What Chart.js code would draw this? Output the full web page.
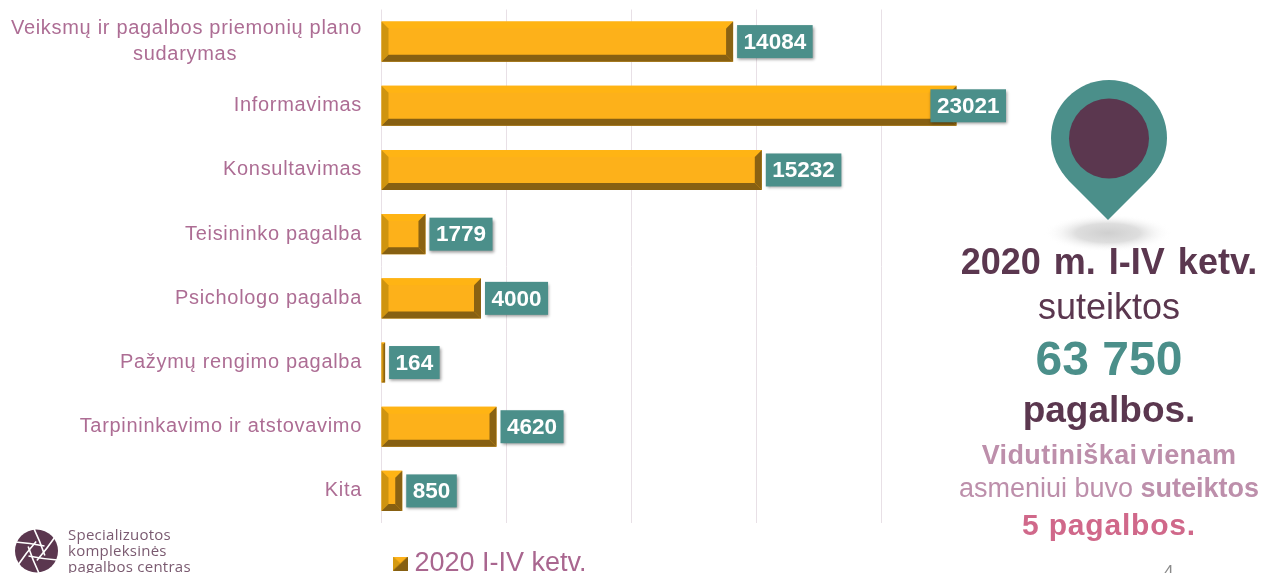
<!DOCTYPE html>
<html lang="lt"><head><meta charset="utf-8">
<style>
html,body{margin:0;padding:0;background:#fff;width:1264px;height:573px;overflow:hidden;font-family:"Liberation Sans",Arial,sans-serif}
canvas{position:absolute;left:0;top:0}
svg{position:absolute;left:0;top:0}
.t{position:absolute;white-space:nowrap;text-align:center;left:909px;width:400px;line-height:1}
.l{position:absolute;left:68px;white-space:nowrap;font-family:"Open Sans",sans-serif;font-size:15px;letter-spacing:.25px;color:#7a5a70;line-height:1}
</style>
<script src="https://cdn.jsdelivr.net/npm/chart.js@4"></script>
</head><body>
<canvas id="c" width="1264" height="573"></canvas>
<svg width="1264" height="573" viewBox="0 0 1264 573">
<defs><radialGradient id="sh"><stop offset="0" stop-color="#cfcfcf"/><stop offset=".5" stop-color="#dedede"/><stop offset="1" stop-color="#fff" stop-opacity="0"/></radialGradient></defs>
<ellipse cx="1108" cy="233" rx="64" ry="19" fill="url(#sh)"/>
<path d="M1109 80C1077 80 1051 106 1051 138C1051 156 1059 170 1069 181L1108 220L1147 181C1158 170 1167 156 1167 138C1167 106 1141 80 1109 80Z" fill="#4b8f8a"/>
<circle cx="1109" cy="138.500" r="40" fill="#5b374f"/>
<g transform="translate(36.500 551)">
<circle r="21.500" fill="#5b374f"/>
<g stroke="#fff" stroke-width="1.600" fill="none" id="ap">
<path d="M-21 -9Q-7 -8 8 -5"/>
<path d="M-21 -9Q-7 -8 8 -5" transform="rotate(60)"/>
<path d="M-21 -9Q-7 -8 8 -5" transform="rotate(120)"/>
<path d="M-21 -9Q-7 -8 8 -5" transform="rotate(180)"/>
<path d="M-21 -9Q-7 -8 8 -5" transform="rotate(240)"/>
<path d="M-21 -9Q-7 -8 8 -5" transform="rotate(300)"/>
</g></g>
</svg>
<div class="l" style="top:527px">Specializuotos</div>
<div class="l" style="top:543px">kompleksinės</div>
<div class="l" style="top:559px">pagalbos centras</div>
<div class="t" style="top:244px;font-size:36px;font-weight:700;color:#5b374f;word-spacing:3px">2020 m. I-IV ketv.</div>
<div class="t" style="top:289px;font-size:36px;color:#5b374f">suteiktos</div>
<div class="t" style="top:335px;font-size:48px;font-weight:700;color:#4b8f8a">63 750</div>
<div class="t" style="top:391px;font-size:37px;font-weight:700;color:#5b374f">pagalbos.</div>
<div class="t" style="top:442px;font-size:27px;font-weight:700;color:#bd8fab;letter-spacing:.4px;word-spacing:-4.500px">Vidutiniškai vienam</div>
<div class="t" style="top:475px;font-size:27px;color:#bd8fab">asmeniui buvo <b>suteiktos</b></div>
<div class="t" style="top:510px;font-size:30px;font-weight:700;color:#d0688a;letter-spacing:.8px">5 pagalbos.</div>
<div style="position:absolute;left:1164px;top:563px;font-size:17px;color:#8a8a8a;line-height:1">4</div>
<script>
const categories = [["Veiksmų ir pagalbos priemonių plano","sudarymas"],"Informavimas","Konsultavimas","Teisininko pagalba","Psichologo pagalba","Pažymų rengimo pagalba","Tarpininkavimo ir atstovavimo","Kita"];
const seriesName = "2020 I-IV ketv.";
const values = [14084,23021,15232,1779,4000,164,4620,850];
const axisMax = 25000, axisStep = 5000;

const FACE="#fdb11a",TOP="#ffb414",LEFT="#cf9410",RIGHT="#8a6212",BOTTOM="#876012";
const SPACING="0.69px";
function bevel(ctx,x0,y0,x1,y1,b){
  const tri=(pts,col)=>{ctx.fillStyle=col;ctx.beginPath();pts.forEach((p,i)=>i?ctx.lineTo(p[0],p[1]):ctx.moveTo(p[0],p[1]));ctx.closePath();ctx.fill();};
  tri([[x0,y0],[x1,y0],[x1-b,y0+b],[x0+b,y0+b]],TOP);
  tri([[x0,y0],[x0+b,y0+b],[x0+b,y1-b],[x0,y1]],LEFT);
  tri([[x1,y0],[x1,y1],[x1-b,y1-b],[x1-b,y0+b]],RIGHT);
  tri([[x0,y1],[x0+b,y1-b],[x1-b,y1-b],[x1,y1]],BOTTOM);
}
const swatch=document.createElement("canvas");swatch.width=15;swatch.height=14;
(function(){const s=swatch.getContext("2d");
  s.fillStyle="#d49a12";s.fillRect(0,0,15,14);
  s.fillStyle="#fdb11a";s.beginPath();s.moveTo(0,0);s.lineTo(15,0);s.lineTo(7.5,7);s.closePath();s.fill();
  s.fillStyle="#876012";s.beginPath();s.moveTo(15,0);s.lineTo(15,14);s.lineTo(0,14);s.closePath();s.fill();})();

const barDecor={id:"barDecor",
  beforeDraw(chart){
    const l=chart.legend,ctx=chart.ctx;
    l.left=387;l.right=900;l.top=537;
    if(!l._wrapped){l._wrapped=true;const d=l.draw;l.draw=function(a){ctx.letterSpacing="0px";d.call(this,a);ctx.letterSpacing=SPACING;};}
    ctx.letterSpacing=SPACING;
  },
  beforeDatasetsDraw(chart){chart.ctx.letterSpacing="0px";},
  afterDatasetsDraw(chart){
    const ctx=chart.ctx,meta=chart.getDatasetMeta(0),area=chart.chartArea;
    meta.data.forEach((el,i)=>{
      const x0=el.base,x1=el.x,y0=el.y-el.height/2,y1=el.y+el.height/2;
      const b=Math.min(7,(x1-x0)/2);
      ctx.save();bevel(ctx,x0,y0,x1,y1,b);ctx.restore();
    });
    meta.data.forEach((el,i)=>{
      const txt=String(values[i]);
      ctx.save();
      ctx.font='bold 22.5px "Liberation Sans"';
      const w=ctx.measureText(txt).width+13,h=33;
      const x=Math.min(el.x+4,area.right-w),y=el.y-h/2;
      ctx.shadowColor="rgba(0,0,0,.4)";ctx.shadowBlur=3;ctx.shadowOffsetX=1;ctx.shadowOffsetY=2;
      ctx.fillStyle="#4b8f8a";ctx.fillRect(x,y,w,h);
      ctx.shadowColor="transparent";
      ctx.fillStyle="#fff";ctx.textAlign="center";ctx.textBaseline="middle";
      ctx.fillText(txt,x+w/2,y+h/2+1);
      ctx.restore();
    });
  }};

new Chart(document.getElementById("c"),{
  type:"bar",
  data:{labels:categories,datasets:[{label:seriesName,data:values,backgroundColor:FACE,borderWidth:0,barPercentage:0.625,categoryPercentage:1}]},
  plugins:[barDecor],
  options:{
    indexAxis:"y",responsive:false,animation:false,
    layout:{padding:{top:9.5,right:258,left:0,bottom:0}},
    plugins:{tooltip:{enabled:false},
      legend:{display:true,position:"bottom",align:"start",
        labels:{usePointStyle:true,pointStyle:swatch,boxWidth:1,color:"#a9668f",font:{family:"Liberation Sans",size:27},padding:13}}},
    scales:{
      x:{min:0,max:axisMax,afterFit(s){s.height=0;},
        ticks:{display:false,stepSize:axisStep},border:{display:false},
        grid:{drawTicks:false,lineWidth:1,color:c=>c.tick&&c.tick.value===axisMax?"rgba(0,0,0,0)":"#e8e0e6"}},
      y:{afterFit(s){s.width=381;s.paddingTop=0;s.paddingBottom=0;},
        grid:{display:false,drawTicks:false},border:{display:false},
        ticks:{color:"#ad6d94",font:{family:"Liberation Sans",size:20,lineHeight:1.3},padding:19,
          callback(v,i){const c=categories[i];return Array.isArray(c)?[c[0],c[1]+"\u00a0".repeat(20)]:c;}}}
    }
  }
});
</script>
</body></html>
